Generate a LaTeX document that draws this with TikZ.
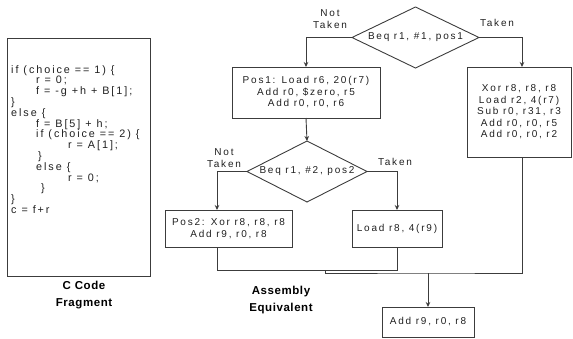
\documentclass[tikz,border=0pt]{standalone}
\usepackage{fontspec}
\setmainfont{Liberation Sans}[LetterSpace=18]
\newfontfamily\capfont{Liberation Sans}[LetterSpace=5]
\usetikzlibrary{shapes.geometric,arrows.meta}

\definecolor{linegray}{HTML}{3C3C3C}
\definecolor{textgray}{HTML}{202020}

\tikzset{
  box/.style={draw=linegray,line width=0.9pt,inner sep=0pt,outer sep=0pt,align=center,text=textgray,font=\fontsize{10}{11.5}\selectfont},
  decision/.style={diamond,aspect=2.08,draw=linegray,line width=0.9pt,inner sep=0pt,outer sep=0pt,text=textgray,font=\fontsize{10}{11.5}\selectfont},
  flow/.style={draw=linegray,line width=0.9pt},
  branch/.style={align=center,text=textgray,font=\fontsize{10}{12.5}\selectfont},
  caption/.style={align=center,text=black,font=\capfont\bfseries\fontsize{11.5}{17}\selectfont}
}

\begin{document}
\begin{tikzpicture}[x=1pt,y=-1pt,>={Stealth[length=5pt,width=4.5pt]}]
\useasboundingbox (0,0) rectangle (573,338);

% C code
\node[box,minimum width=143pt,minimum height=238pt] (codebox) at (78.5,157) {};
\node[anchor=north west,inner sep=0pt,align=left,text=textgray,font=\fontsize{10.8}{10.8}\selectfont] (code) at (11,65) {%
if (choice == 1) \{\\
\hspace*{25pt}r = 0;\\
\hspace*{25pt}f = -g +h + B[1];\\
\}\\
else \{\\
\hspace*{25pt}f = B[5] + h;\\
\hspace*{25pt}if (choice == 2) \{\\
\hspace*{57pt}r = A[1];\\
\hspace*{27pt}\}\\
\hspace*{25pt}else \{\\
\hspace*{57pt}r = 0;\\
\hspace*{30pt}\}\\
\}\\
c = f+r};

% First branch
\node[decision,minimum width=127pt,minimum height=61pt] (cond1) at (415.5,37.5) {Beq r1, \#1, pos1};
\node[branch] (nt1) at (330,19) {Not\\Taken};
\node[branch] (t1) at (497,23) {Taken};

% Not taken path
\node[box,minimum width=148pt,minimum height=51pt] (pos1) at (306,92.5) {Pos1: Load r6, 20(r7)\\Add r0, \$zero, r5\\Add r0, r0, r6};

% Second branch
\node[decision,minimum width=120pt,minimum height=61pt] (cond2) at (307,171.5) {Beq r1, \#2, pos2};
\node[branch] (nt2) at (224,158) {Not\\Taken};
\node[branch] (t2) at (395,162) {Taken};

\node[box,minimum width=127pt,minimum height=37pt] (pos2) at (228.5,228.5) {Pos2: Xor r8, r8, r8\\Add r9, r0, r8};
\node[box,minimum width=90pt,minimum height=37pt] (load) at (397,228.5) {Load r8, 4(r9)};

% Taken path
\node[box,minimum width=104pt,minimum height=90pt] (xor) at (519,112) {Xor r8, r8, r8\\Load r2, 4(r7)\\Sub r0, r31, r3\\Add r0, r0, r5\\Add r0, r0, r2};

% Join
\node[box,minimum width=92pt,minimum height=30pt] (add) at (428,322) {Add r9, r0, r8};

% Captions
\node[caption] (ccap) at (84,295.5) {C Code\\Fragment};
\node[caption] (acap) at (281,300.5) {Assembly\\Equivalent};

% Arrows
\draw[flow,->] (cond1.west) -| (pos1.north);
\draw[flow,->] (cond1.east) -| ([xshift=3pt]xor.north);
\draw[flow,->] (pos1.south) -- (cond2.north);
\draw[flow,->] (cond2.west) -| ([xshift=-11.5pt]pos2.north);
\draw[flow,->] (cond2.east) -| (load.north);
\draw[flow] ([xshift=-11.5pt]pos2.south) -- ++(0,23) -| (load.south);
\coordinate (merge) at (428,273);
\draw[flow] ([xshift=3pt]xor.south) |- (merge) -- ++(-103,0) -- ++(0,-3);
\draw[flow,->] (merge) -- (add.north);

\end{tikzpicture}
\end{document}
